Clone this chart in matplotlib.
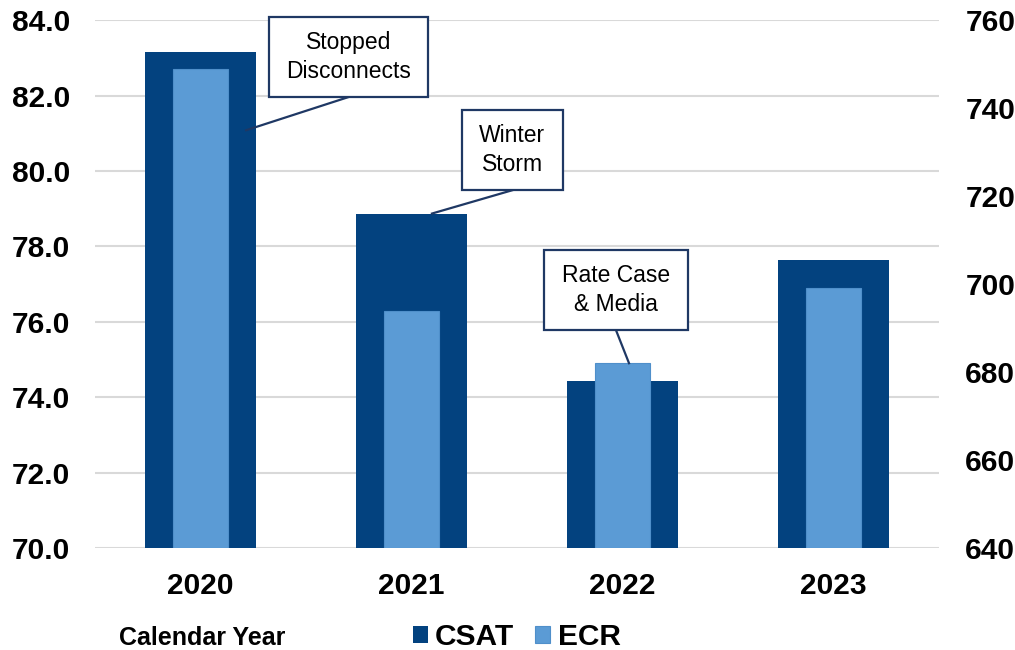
import matplotlib
matplotlib.use("Agg")
import matplotlib.pyplot as plt
from matplotlib.patches import Rectangle

plt.rcParams['font.family'] = ['Liberation Sans', 'DejaVu Sans']

years = ["2020", "2021", "2022", "2023"]
csat = [83.15, 78.87, 74.42, 77.63]
ecr = [749.0, 693.9, 682.0, 699.1]

csat_ticks = [70, 72, 74, 76, 78, 80, 82, 84]
ecr_ticks = [640, 660, 680, 700, 720, 740, 760]

# callout boxes: text, (x0, x1, y0, y1) in CSAT data units, tip point
notes = [
    ("Stopped\nDisconnects", (0.325, 1.078, 81.96, 84.08), (0.216, 81.08)),
    ("Winter\nStorm", (1.239, 1.718, 79.49, 81.61), (1.097, csat[1])),
    ("Rate Case\n& Media", (1.628, 2.310, 75.78, 77.90), (2.031, 70 + (ecr[2] - 640) / 120 * 14)),
]

dark = "#03427f"
light = "#5b9bd5"
navy = "#1f3864"

fig = plt.figure(figsize=(10.15, 6.5), dpi=100)
ax = fig.add_axes([0.0936, 0.157, 0.8315, 0.812])
ax2 = ax.twinx()

x = range(len(years))
ax.bar(x, csat, width=0.526, color=dark, zorder=2, label="CSAT")
ax2.bar(x, [v - 640 for v in ecr], bottom=640, width=0.26, color=light,
        edgecolor="#4f8fca", linewidth=0.8, zorder=2, label="ECR")

ax.set_xlim(-0.5, 3.5)
ax.set_ylim(70, 84)
ax2.set_ylim(640, 760)
ax.set_yticks(csat_ticks)
ax.set_yticklabels([f"{t:.1f}" for t in csat_ticks])
ax2.set_yticks(ecr_ticks)
ax.set_xticks(list(x))
ax.set_xticklabels(years)

ax.grid(axis="y", color="#d9d9d9", linewidth=1.5, zorder=0)
ax.set_axisbelow(True)
for a in (ax, ax2):
    for s in a.spines.values():
        s.set_visible(False)
    a.tick_params(length=0, labelsize=21.5)
    for lbl in a.get_xticklabels() + a.get_yticklabels():
        lbl.set_fontweight("bold")
ax.tick_params(axis="y", pad=18)
ax.tick_params(axis="x", pad=17)
ax2.tick_params(axis="y", pad=19)

for text, (x0, x1, y0, y1), (tx, ty) in notes:
    ax2.add_patch(Rectangle((x0, y0), x1 - x0, y1 - y0, transform=ax.transData,
                            facecolor="white", edgecolor=navy, linewidth=1.6,
                            zorder=5, clip_on=False))
    ax2.text((x0 + x1) / 2, (y0 + y1) / 2, text, transform=ax.transData,
             ha="center", va="center", fontsize=16.5, linespacing=1.32,
             color="black", zorder=6)
    ax2.plot([(x0 + x1) / 2, tx], [y0, ty], transform=ax.transData,
             color=navy, linewidth=1.6, zorder=4, clip_on=False)

h1, l1 = ax.get_legend_handles_labels()
h2, l2 = ax2.get_legend_handles_labels()
fig.legend(h1 + h2, l1 + l2, loc="center", bbox_to_anchor=(0.509, 0.02),
           ncol=2, frameon=False, handlelength=0.5, handleheight=0.5,
           handletextpad=0.25, columnspacing=0.7,
           prop={"size": 21.5, "weight": "bold"})

fig.text(0.199, 0.018, "Calendar Year", ha="center", va="center",
         fontsize=18, fontweight="bold")

fig.savefig("out.png", dpi=100)
